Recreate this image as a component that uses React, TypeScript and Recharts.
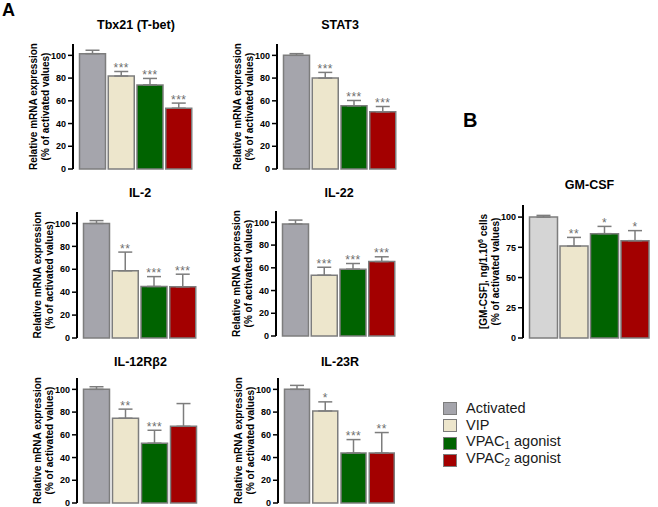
import React from "react";
import { BarChart, Bar, XAxis, YAxis, ErrorBar, Cell, LabelList } from "recharts";

// treatment groups (same order in every panel)
const groups = ["Activated", "VIP", "VPAC1 agonist", "VPAC2 agonist"];
const mrnaColors = ["#a5a5ac", "#ede6cc", "#006300", "#a30000"];
const gmColors = ["#d5d5d5", "#ede6cc", "#006300", "#a30000"];

const mrnaTicks = [0, 20, 40, 60, 80, 100];
const gmTicks = [0, 25, 50, 75, 100];

// panel A: relative mRNA expression (% of activated), upper SEM, significance
const tbx21Values = [101.5, 81.8, 74, 53.5];
const tbx21Errors = [3, 4, 5.7, 4.5];
const tbx21Stars = ["", "***", "***", "***"];

const stat3Values = [100, 80, 55.6, 50.3];
const stat3Errors = [1.5, 5, 4.7, 4.7];
const stat3Stars = ["", "***", "***", "***"];

const il2Values = [100, 58.7, 45, 44.7];
const il2Errors = [2.5, 16.3, 8.6, 11];
const il2Stars = ["", "**", "***", "***"];

const il22Values = [98.5, 53.5, 58.8, 65.5];
const il22Errors = [3.5, 7, 5, 4.2];
const il22Stars = ["", "***", "***", "***"];

const il12Values = [100, 74.6, 52.6, 67.5];
const il12Errors = [2.3, 8, 11.4, 20];
const il12Stars = ["", "**", "***", ""];

const il23Values = [100, 81, 44, 44];
const il23Errors = [3.5, 8, 11.8, 18];
const il23Stars = ["", "*", "***", "**"];

// panel B: GM-CSF secretion
const gmValues = [100, 76, 86.3, 80.5];
const gmErrors = [1.4, 7.2, 6, 8.3];
const gmStars = ["", "**", "*", "*"];

const FONT = '"Liberation Sans", Arial, sans-serif';
const STROKE = "#7d7d7d";
const Y_W = 70;

type PanelProps = {
  title: React.ReactNode;
  axisX: number;
  plotRight: number;
  plotTop: number;
  plotBottom: number;
  values: number[];
  errors: number[];
  stars: string[];
  colors: string[];
  ticks: number[];
  gm?: boolean;
};

function Panel(p: PanelProps) {
  const data = groups.map((g, i) => ({
    name: g,
    value: p.values[i],
    err: [0, p.errors[i]],
    stars: p.stars[i],
  }));
  const left = p.axisX - Y_W;
  const top = p.plotTop - 12;
  const width = p.plotRight - left + 2;
  const height = p.plotBottom - p.plotTop + 24;
  const midY = (p.plotTop + p.plotBottom) / 2 - top;

  const renderStars = (props: any) => {
    const vb = props.viewBox ?? props;
    const i = props.index;
    const s = data[i]?.stars;
    if (!s) return null;
    const bx = vb.x ?? props.x;
    const by = Math.min(vb.y ?? props.y, (vb.y ?? props.y) + (vb.height ?? props.height));
    const bh = Math.abs(vb.height ?? props.height);
    const bw = vb.width ?? props.width;
    const pxPerUnit = bh / data[i].value;
    const capY = by - p.errors[i] * pxPerUnit;
    return (
      <text x={bx + bw / 2} y={capY + 0.5} textAnchor="middle" fontSize={12} fill="#6e6e6e" fontFamily={FONT} letterSpacing={0.5}>
        {s}
      </text>
    );
  };

  const yLabel = () => (
    <g fontFamily={FONT} fontWeight={700} fontSize={10} fill="#000">
      <text x={Y_W - 36} y={midY} textAnchor="middle" transform={`rotate(-90, ${Y_W - 36}, ${midY})`}>
        {p.gm ? (
          <>
            [GM-CSF], ng/1.10
            <tspan dy={-4} fontSize={7}>6</tspan>
            <tspan dy={4}> cells</tspan>
          </>
        ) : (
          "Relative mRNA expression"
        )}
      </text>
      <text x={Y_W - 24} y={midY} textAnchor="middle" transform={`rotate(-90, ${Y_W - 24}, ${midY})`}>
        (% of activated values)
      </text>
    </g>
  );

  return (
    <>
      <div
        style={{
          position: "absolute",
          left: (p.axisX + p.plotRight) / 2 - 100,
          top: (p.gm ? 185 : p.plotTop < 100 ? 25 : p.plotTop < 300 ? 192.5 : 362) - 8,
          width: 200,
          textAlign: "center",
          fontFamily: FONT,
          fontWeight: 700,
          fontSize: 12.5,
          lineHeight: "16px",
        }}
      >
        {p.title}
      </div>
      <div style={{ position: "absolute", left, top }}>
        <BarChart
          width={width}
          height={height}
          data={data}
          margin={{ top: 12, right: 2, bottom: 12, left: 0 }}
          barCategoryGap={1.5}
        >
          <XAxis
            dataKey="name"
            tick={false}
            tickLine={false}
            height={0}
            padding={{ left: 5, right: 6 }}
            axisLine={{ stroke: "#000", strokeWidth: 2 }}
          />
          <YAxis
            type="number"
            width={Y_W}
            domain={[0, 110]}
            ticks={p.ticks}
            interval={0}
            tickSize={5}
            tickMargin={2}
            stroke="#000"
            axisLine={{ stroke: "#000", strokeWidth: 2 }}
            tickLine={{ stroke: "#000", strokeWidth: 1.5 }}
            tick={{ fontSize: 9, fontWeight: 700, fill: "#000", fontFamily: FONT }}
            label={{ content: yLabel }}
          />
          <Bar dataKey="value" stroke={STROKE} strokeWidth={1.5} isAnimationActive={false}>
            {data.map((d, i) => (
              <Cell key={d.name} fill={p.colors[i]} />
            ))}
            <ErrorBar dataKey="err" direction="y" width={7} stroke={STROKE} strokeWidth={1.5} isAnimationActive={false} />
            <LabelList dataKey="stars" content={renderStars} />
          </Bar>
        </BarChart>
      </div>
    </>
  );
}

function Legend() {
  return (
    <div style={{ position: "absolute", left: 443, top: 400, fontFamily: FONT, fontSize: 14.5, color: "#1a1a1a" }}>
      {groups.map((g, i) => (
        <div key={g} style={{ display: "flex", alignItems: "center", height: 17.3 }}>
          <div
            style={{
              width: 12,
              height: 11,
              background: mrnaColors[i],
              border: `1.5px solid ${STROKE}`,
              marginRight: 9,
            }}
          />
          <span style={{ lineHeight: "17px" }}>
            {g.startsWith("VPAC") ? (
              <>
                VPAC<sub style={{ fontSize: 10, verticalAlign: -3 }}>{g[4]}</sub>
                {g.slice(5)}
              </>
            ) : (
              g
            )}
          </span>
        </div>
      ))}
    </div>
  );
}

export default function App() {
  return (
    <div style={{ position: "absolute", left: 0, top: 0, width: 658, height: 507, background: "#fff", overflow: "hidden" }}>
      <div style={{ position: "absolute", left: 2, top: 0, fontFamily: FONT, fontWeight: 700, fontSize: 18, lineHeight: "20px" }}>A</div>
      <div style={{ position: "absolute", left: 463, top: 109, fontFamily: FONT, fontWeight: 700, fontSize: 20, lineHeight: "22px" }}>B</div>

      <Panel title="Tbx21 (T-bet)" axisX={73} plotRight={199} plotTop={44} plotBottom={169} values={tbx21Values} errors={tbx21Errors} stars={tbx21Stars} colors={mrnaColors} ticks={mrnaTicks} />
      <Panel title="STAT3" axisX={277} plotRight={403} plotTop={44} plotBottom={169} values={stat3Values} errors={stat3Errors} stars={stat3Stars} colors={mrnaColors} ticks={mrnaTicks} />
      <Panel title="IL-2" axisX={77} plotRight={203} plotTop={212} plotBottom={338} values={il2Values} errors={il2Errors} stars={il2Stars} colors={mrnaColors} ticks={mrnaTicks} />
      <Panel title="IL-22" axisX={276} plotRight={402} plotTop={211} plotBottom={336} values={il22Values} errors={il22Errors} stars={il22Stars} colors={mrnaColors} ticks={mrnaTicks} />
      <Panel title="IL-12Rβ2" axisX={77} plotRight={204} plotTop={378} plotBottom={503} values={il12Values} errors={il12Errors} stars={il12Stars} colors={mrnaColors} ticks={mrnaTicks} />
      <Panel title="IL-23R" axisX={278} plotRight={402} plotTop={378} plotBottom={503} values={il23Values} errors={il23Errors} stars={il23Stars} colors={mrnaColors} ticks={mrnaTicks} />
      <Panel title="GM-CSF" gm axisX={523} plotRight={656} plotTop={205} plotBottom={338} values={gmValues} errors={gmErrors} stars={gmStars} colors={gmColors} ticks={gmTicks} />

      <Legend />
    </div>
  );
}
